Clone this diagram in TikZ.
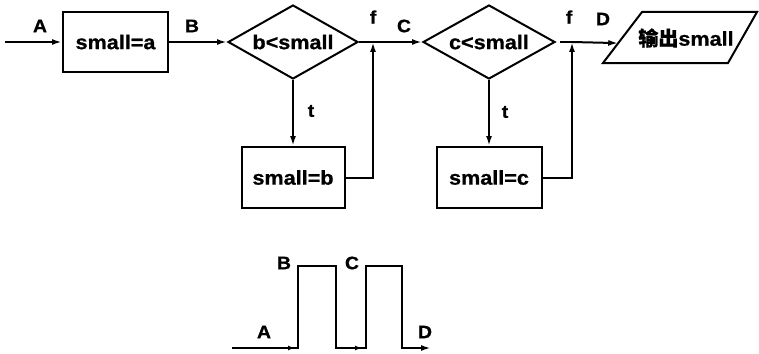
\documentclass[tikz,border=0pt]{standalone}
\usepackage{fontspec}
\setmainfont{Liberation Sans}[FakeStretch=1.08,BoldFeatures={FakeBold=0.8}]
\newfontfamily\cjk{Noto Sans CJK SC}[BoldFeatures={FakeBold=0.6}]
\usetikzlibrary{shapes.geometric,arrows.meta}
\begin{document}
\begin{tikzpicture}[x=1pt,y=-1pt,line width=2pt,
  font=\fontsize{20}{22}\selectfont\bfseries,
  proc/.style={draw,rectangle,inner sep=0pt,minimum width=105pt,minimum height=59pt},
  test/.style={draw,diamond,aspect=1.76,inner sep=0pt,minimum width=130pt,minimum height=74pt},
  tag/.style={font=\fontsize{18}{20}\selectfont\bfseries,inner sep=0pt},
  arr/.style={-{Latex[length=10pt,width=6pt]}},
  tick/.style={-{Latex[length=7pt,width=5pt]}}]
\useasboundingbox (0,0) rectangle (759,353);

% flowchart blocks
\node[proc] (sa) at (115.5,42) {small=a};
\node[test] (d1) at (293,42) {b<small};
\node[test,minimum width=132pt] (d2) at (489,42) {c<small};
\node[proc,minimum width=103pt,minimum height=61pt] (sb) at (293,177.5) {small=b};
\node[proc,minimum width=105pt,minimum height=61pt] (sc) at (489,177.5) {small=c};

% output parallelogram
\coordinate (obl) at (603,63);
\coordinate (otl) at (642,12);
\coordinate (otr) at (757,12);
\coordinate (obr) at (728,63);
\draw (obl) -- (otl) -- (otr) -- (obr) -- cycle;
\node (out) at (686,38) {{\cjk 输出}small};
\path (obl) -- (otl) coordinate[pos=0.39] (oin);

% junctions and entry point
\coordinate (src) at (5,42);
\coordinate (j1) at (373,42);
\coordinate (j2) at (572,42);

% connectors
\draw[arr] (src) -- (sa);
\draw[arr] (sa) -- (d1);
\draw (d1.east) -- (j1);
\draw[arr] (j1) -- (d2.west);
\draw[arr] (d1.south) -- (sb.north);
\draw[arr] (sb.east) -| (j1);
\draw ([xshift=4pt]d2.east) -- (j2);
\draw[arr] (j2) -- (oin);
\draw[arr] (d2.south) -- (sc.north);
\draw[arr] (sc.east) -| (j2);

% labels
\node[tag] (lA) at (40,26) {A};
\node[tag] (lB) at (192,26) {B};
\node[tag] (lf1) at (373,17) {f};
\node[tag] (lC) at (404,26) {C};
\node[tag] (lf2) at (569,17) {f};
\node[tag] (lD) at (603,19) {D};
\node[tag] (lt1) at (311,111) {t};
\node[tag] (lt2) at (505,112) {t};

% timing waveform
\coordinate (w0) at (232,348);
\coordinate (w1) at (298,348);
\coordinate (h1) at (298,266);
\coordinate (h2) at (336,266);
\coordinate (w2) at (336,348);
\coordinate (w3) at (366,348);
\coordinate (h3) at (366,266);
\coordinate (h4) at (402,266);
\coordinate (w4) at (402,348);
\coordinate (w5) at (431,348);
\coordinate (m1) at (295,348);
\coordinate (m2) at (362,348);
\draw[arr] (w0) -- (w1) -- (h1) -- (h2) -- (w2) -- (w3) -- (h3) -- (h4) -- (w4) -- (w5);
\draw[tick] (w0) -- (m1);
\draw[tick] (w2) -- (m2);

\node[tag] (wA) at (264,332) {A};
\node[tag] (wB) at (284,263) {B};
\node[tag] (wC) at (352,263) {C};
\node[tag] (wD) at (425,332) {D};
\end{tikzpicture}
\end{document}
